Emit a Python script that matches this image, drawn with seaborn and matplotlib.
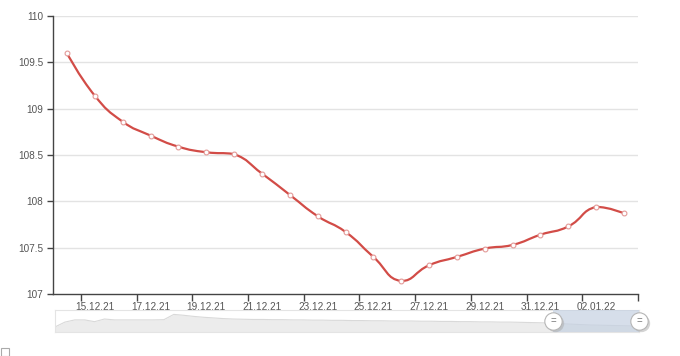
import numpy as np
import matplotlib
matplotlib.use("Agg")
import matplotlib.pyplot as plt
import seaborn as sns
import pandas as pd
from matplotlib.path import Path
from matplotlib.patches import PathPatch, Rectangle

# ---------------- data ----------------
dates = ["14.12.21", "15.12.21", "16.12.21", "17.12.21", "18.12.21", "19.12.21",
         "20.12.21", "21.12.21", "22.12.21", "23.12.21", "24.12.21", "25.12.21",
         "26.12.21", "27.12.21", "28.12.21", "29.12.21", "30.12.21", "31.12.21",
         "01.01.22", "02.01.22", "03.01.22"]
values = [109.60, 109.14, 108.86, 108.71, 108.59, 108.53, 108.51, 108.30, 108.07,
          107.84, 107.67, 107.40, 107.14, 107.31, 107.40, 107.49, 107.53, 107.64,
          107.73, 107.94, 107.87]
y_ticks = [107, 107.5, 108, 108.5, 109, 109.5, 110]
y_tick_labels = ["107", "107.5", "108", "108.5", "109", "109.5", "110"]
# overview series shown in the zoom slider (relative height)
shadow = [0.23, 0.45, 0.55, 0.55, 0.47, 0.59, 0.55, 0.55, 0.55, 0.55,
          0.55, 0.56, 0.80, 0.76, 0.71, 0.67, 0.64, 0.61, 0.59, 0.58,
          0.57, 0.57, 0.56, 0.56, 0.55, 0.55, 0.54, 0.54, 0.53, 0.53,
          0.52, 0.52, 0.51, 0.51, 0.50, 0.50, 0.50, 0.49, 0.49, 0.48,
          0.48, 0.47, 0.47, 0.46, 0.46, 0.45, 0.45, 0.44, 0.43, 0.42,
          0.41, 0.38, 0.36, 0.34, 0.32, 0.31, 0.30, 0.29, 0.28, 0.27]
zoom_start, zoom_end = 0.853, 1.0

sns.set_theme(style="white")
plt.rcParams["font.family"] = ["Liberation Sans", "DejaVu Sans"]

LINE = "#d24c47"
W, H = 680, 356
fig = plt.figure(figsize=(W / 100, H / 100), dpi=100)
ax = fig.add_axes([53 / W, 62 / H, 585 / W, 278 / H])

df = pd.DataFrame({"idx": np.arange(len(dates)), "value": values})

# smooth curve (echarts-like bezier smoothing) in data space
xs = df["idx"].to_numpy(float)
ys = df["value"].to_numpy(float)
sx, sy = 27.86, 92.67
smooth = 0.5
n = len(xs)
verts = [(xs[0], ys[0])]
codes = [Path.MOVETO]
cp_next = (xs[0], ys[0])
for i in range(1, n):
    x, y = xs[i], ys[i]
    px, py = xs[i - 1], ys[i - 1]
    if i < n - 1:
        nx, ny = xs[i + 1], ys[i + 1]
        vx, vy = nx - px, ny - py
        l0 = np.hypot((x - px) * sx, (y - py) * sy)
        l1 = np.hypot((nx - x) * sx, (ny - y) * sy)
        r = l1 / (l0 + l1)
        c1x = x - vx * smooth * (1 - r)
        c1y = y - vy * smooth * (1 - r)
        c1x = min(max(c1x, min(px, x)), max(px, x))
        c1y = min(max(c1y, min(py, y)), max(py, y))
        n0x = x + vx * smooth * r
        n0y = y + vy * smooth * r
        n0x = min(max(n0x, min(nx, x)), max(nx, x))
        n0y = min(max(n0y, min(ny, y)), max(ny, y))
    else:
        c1x, c1y = x, y
        n0x, n0y = x, y
    verts += [cp_next, (c1x, c1y), (x, y)]
    codes += [Path.CURVE4] * 3
    cp_next = (n0x, n0y)
ax.add_patch(PathPatch(Path(verts, codes), fill=False, edgecolor=LINE, lw=1.6,
                       zorder=3, capstyle="round", joinstyle="round"))

sns.scatterplot(data=df, x="idx", y="value", ax=ax, s=12, marker="o",
                facecolor="white", edgecolor="#e39a98", linewidth=0.8, zorder=4)

ax.set_xlim(-0.5, len(dates) - 0.5)
ax.set_ylim(107, 110)
ax.set_yticks(y_ticks)
ax.set_yticklabels(y_tick_labels)
lab_pos = np.arange(1, len(dates) - 1, 2)
ax.set_xticks(lab_pos)
ax.set_xticklabels([dates[i] for i in lab_pos])
ax.set_xticks(np.arange(0.5, len(dates), 2), minor=True)
ax.tick_params(axis="x", which="major", length=0, pad=6, labelsize=7.2, labelcolor="#555555")
ax.tick_params(axis="x", which="minor", length=5, width=1, color="#444444", bottom=True)
ax.tick_params(axis="y", which="major", length=4, width=1, color="#444444", left=True,
               pad=3, labelsize=7.2, labelcolor="#555555")
ax.set_xlabel("")
ax.set_ylabel("")
for g in y_ticks[1:]:
    ax.axhline(g, color="#e3e3e3", lw=1, zorder=0)
for s in ["top", "right"]:
    ax.spines[s].set_visible(False)
for s in ["left", "bottom"]:
    ax.spines[s].set_color("#444444")
    ax.spines[s].set_linewidth(1)

# ---------------- zoom slider ----------------
ax2 = fig.add_axes([55 / W, 24 / H, 584 / W, 22 / H])
sx_pos = np.linspace(0, 1, len(shadow))
ax2.fill_between(sx_pos, 0, shadow, color="#ececec", lw=0, zorder=1)
ax2.plot(sx_pos, shadow, color="#d9d9d9", lw=0.8, zorder=2)
ax2.axvspan(zoom_start, zoom_end, color="#c5d1e2", alpha=0.7, lw=0, zorder=3)
ax2.set_xlim(0, 1)
ax2.set_ylim(0, 1)
ax2.set_xticks([])
ax2.set_yticks([])
for s in ax2.spines.values():
    s.set_color("#e4e4e4")
    s.set_linewidth(0.8)
for hx in (zoom_start, zoom_end):
    ax2.plot([hx + 0.004], [0.4], marker="o", ms=12.5, mfc="#aaaaaa", mec="none",
             alpha=0.5, clip_on=False, zorder=5)
    ax2.plot([hx], [0.5], marker="o", ms=12.5, mfc="white", mec="#b5b5b5", mew=0.8,
             clip_on=False, zorder=6)
    ax2.text(hx, 0.5, "=", ha="center", va="center", fontsize=7, color="#777777",
             zorder=7, clip_on=False)

fig.patches.append(Rectangle((1 / W, 0), 8 / W, 8 / H, transform=fig.transFigure,
                             fill=False, edgecolor="#aaaaaa", lw=0.8))

fig.savefig("out.png", dpi=100)
